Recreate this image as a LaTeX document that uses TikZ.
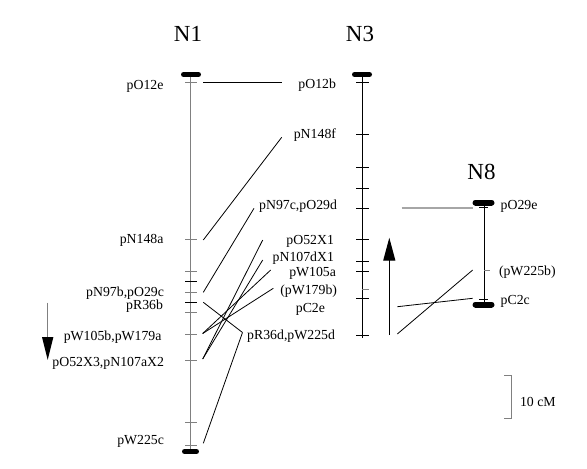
\documentclass[tikz,border=0pt]{standalone}
\usepackage{fontspec}
\setmainfont{Liberation Serif}
\usetikzlibrary{arrows.meta}
\definecolor{axisgray}{gray}{0.5}
\definecolor{linkgray}{gray}{0.65}

\begin{document}
\begin{tikzpicture}[x=1pt, y=-1pt,
  every node/.style={inner sep=0pt, outer sep=0pt, font=\fontsize{13.8}{15}\selectfont},
  lname/.style={anchor=base east},
  rname/.style={anchor=base west},
  chrom/.style={anchor=base, font=\fontsize{23}{26}\selectfont},
  endcap/.style={line width=5pt, line cap=round},
  link/.style={line width=0.8pt}]
\useasboundingbox (0,0) rectangle (587,469);

% titles
\node[chrom] (tN1) at (188,41.5) {N1};
\node[chrom] (tN3) at (360,41.5) {N3};
\node[chrom] (tN8) at (481.5,179) {N8};

% N1
\draw[axisgray, line width=1pt] (190.7,74.5) -- (190.7,451.5);
\draw[endcap] (183.5,74.5) -- (198.5,74.5);
\draw[endcap] (184.5,451.5) -- (196.5,451.5);
\draw[axisgray] (185,82.3) -- (197,82.3);
\draw[axisgray] (185,239.3) -- (197,239.3);
\draw[axisgray] (185,271) -- (197,271);
\draw (185,281) -- (197,281);
\draw[axisgray] (185,291.7) -- (197,291.7);
\draw (185,301.7) -- (197,301.7);
\draw[axisgray] (185,312.3) -- (197,312.3);
\draw[axisgray] (185,333.7) -- (197,333.7);
\draw[axisgray] (185,360) -- (197,360);
\draw[axisgray] (185,422.3) -- (197,422.3);
\draw[axisgray] (185,445.3) -- (197,445.3);

\node[lname] (pO12e) at (163.5,89) {pO12e};
\node[lname] (pN148a) at (163.5,243.5) {pN148a};
\node[lname] (pN97b) at (164,296) {pN97b,pO29c};
\node[lname] (pR36b) at (163,309.5) {pR36b};
\node[lname] (pW105b) at (161.5,340.5) {pW105b,pW179a};
\node[lname] (pO52X3) at (164,366.5) {pO52X3,pN107aX2};
\node[lname] (pW225c) at (164,444) {pW225c};

\draw[axisgray, line width=1.5pt, -{Triangle[length=23pt,width=11pt,black]}] (47.7,302.7) -- (47.7,360);

% N3
\draw[line width=1pt] (362.3,74.5) -- (362.3,338.3);
\draw[endcap] (354.5,74.5) -- (369.5,74.5);
\draw (356,82.3) -- (369,82.3);
\draw (356,134) -- (369,134);
\draw (356,166.7) -- (369,166.7);
\draw (356,187.7) -- (369,187.7);
\draw (356,207.7) -- (369,207.7);
\draw (356,239.3) -- (369,239.3);
\draw (356,260.7) -- (369,260.7);
\draw (356,270.7) -- (369,270.7);
\draw[axisgray] (362.3,289.3) -- (369,289.3);
\draw (356,297.7) -- (369,297.7);
\draw (356,335.3) -- (369,335.3);

\node[lname] (pO12b) at (336,88) {pO12b};
\node[lname] (pN148f) at (336,138) {pN148f};
\node[lname] (pN97c) at (337,209) {pN97c,pO29d};
\node[lname] (pO52X1) at (334,244) {pO52X1};
\node[lname] (pN107dX1) at (334,261.5) {pN107dX1};
\node[lname] (pW105a) at (336,276) {pW105a};
\node[lname] (pW179b) at (337,294.5) {(pW179b)};
\node[lname] (pC2e) at (325,312.5) {pC2e};
\node[lname] (pR36d) at (335,339) {pR36d,pW225d};

\draw[line width=1.2pt, -{Triangle[length=23pt,width=12pt]}] (389.3,335) -- (389.3,237.7);

% N8
\draw[line width=1pt] (484,202.5) -- (484,304.5);
\draw[line width=6pt, line cap=round] (475.5,202.5) -- (491.5,202.5);
\draw[line width=6pt, line cap=round] (475.5,304.5) -- (491.5,304.5);
\draw (479,207.3) -- (488,207.3);
\draw[axisgray] (484,270) -- (490,270);
\draw (479,299) -- (488,299);

\node[rname] (pO29e) at (500.7,209) {pO29e};
\node[rname] (pW225b) at (499,275.5) {(pW225b)};
\node[rname] (pC2c) at (500.7,304) {pC2c};

% link ends
\coordinate (aO12e) at (203.3,82.3);
\coordinate (aN148a) at (203.3,240);
\coordinate (aN97b) at (203.3,292.3);
\coordinate (aR36b) at (203.3,302.3);
\coordinate (aW105b) at (202.7,333.5);
\coordinate (aO52X3) at (202.7,359);
\coordinate (aW225c) at (203.3,443.3);
\coordinate (bO12b) at (281.7,82.3);
\coordinate (bN148f) at (281.7,137.3);
\coordinate (bN97c) at (254,208.3);
\coordinate (bO52X1) at (262.7,240);
\coordinate (bN107dX1) at (262.7,260);
\coordinate (bW105a) at (270.7,270);
\coordinate (bW179b) at (273.3,288.3);
\coordinate (bR36d) at (242.5,332.5);
\coordinate (cO29d) at (401.7,207.7);
\coordinate (cC2e) at (397.3,306.7);
\coordinate (cW225d) at (397.3,334);
\coordinate (dO29e) at (473.3,207.7);
\coordinate (dC2c) at (472.7,298.3);
\coordinate (dW225b) at (472.7,270);

% links N1 - N3
\draw[link] (aO12e) -- (bO12b);
\draw[link] (aN148a) -- (bN148f);
\draw[link] (aN97b) -- (bN97c);
\draw[link] (aO52X3) -- (bO52X1);
\draw[link] (aO52X3) -- (bN107dX1);
\draw[link] (aW105b) -- (bW105a);
\draw[link] (aW105b) -- (bW179b);
\draw[link] (aR36b) -- (bR36d);
\draw[link] (aW225c) -- (bR36d);

% links N3 - N8
\draw[linkgray, line width=1.8pt] (cO29d) -- (dO29e);
\draw[link] (cC2e) -- (dC2c);
\draw[link] (cW225d) -- (dW225b);

% scale
\draw[axisgray] (504,375) -- (511,375) -- (511,418) -- (504,418);
\node[rname] (scale) at (520,406.7) {10 cM};
\end{tikzpicture}
\end{document}
